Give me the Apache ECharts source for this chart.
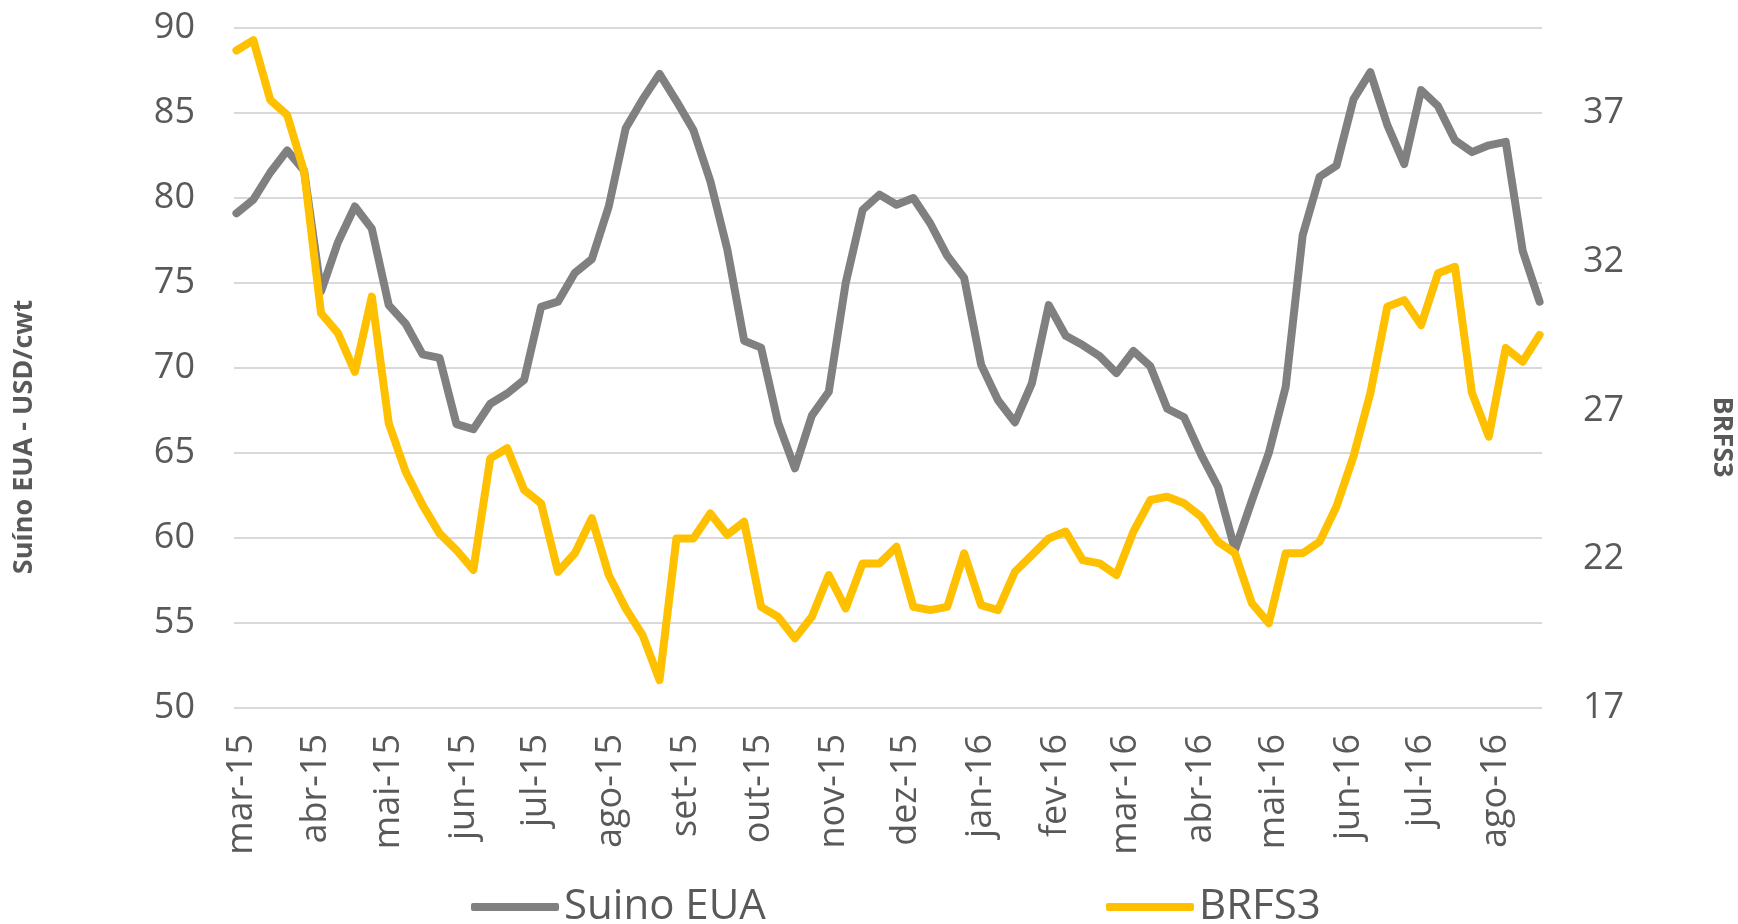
<!DOCTYPE html>
<html>
<head>
<meta charset="utf-8">
<title>Suino EUA x BRFS3</title>
<script src="https://cdn.jsdelivr.net/npm/echarts@6/dist/echarts.min.js"></script>
<style>
  html, body { margin: 0; padding: 0; background: #ffffff; }
  #chart { width: 1738px; height: 924px; }
</style>
</head>
<body>
<div id="chart"></div>
<script>
// datas semanais (sextas-feiras)
const dates = [
  '2015-02-27', '2015-03-06', '2015-03-13', '2015-03-20', '2015-03-27',
  '2015-04-03', '2015-04-10', '2015-04-17', '2015-04-24',
  '2015-05-01', '2015-05-08', '2015-05-15', '2015-05-22', '2015-05-29',
  '2015-06-05', '2015-06-12', '2015-06-19', '2015-06-26',
  '2015-07-03', '2015-07-10', '2015-07-17', '2015-07-24', '2015-07-31',
  '2015-08-07', '2015-08-14', '2015-08-21', '2015-08-28',
  '2015-09-04', '2015-09-11', '2015-09-18', '2015-09-25',
  '2015-10-02', '2015-10-09', '2015-10-16', '2015-10-23', '2015-10-30',
  '2015-11-06', '2015-11-13', '2015-11-20', '2015-11-27',
  '2015-12-04', '2015-12-11', '2015-12-18', '2015-12-25',
  '2016-01-01', '2016-01-08', '2016-01-15', '2016-01-22', '2016-01-29',
  '2016-02-05', '2016-02-12', '2016-02-19', '2016-02-26',
  '2016-03-04', '2016-03-11', '2016-03-18', '2016-03-25',
  '2016-04-01', '2016-04-08', '2016-04-15', '2016-04-22', '2016-04-29',
  '2016-05-06', '2016-05-13', '2016-05-20', '2016-05-27',
  '2016-06-03', '2016-06-10', '2016-06-17', '2016-06-24',
  '2016-07-01', '2016-07-08', '2016-07-15', '2016-07-22', '2016-07-29',
  '2016-08-05', '2016-08-12', '2016-08-19'
];

// Suino EUA (USD/cwt) - eixo esquerdo
const suinoEua = [
  79.1, 79.9, 81.5, 82.8, 81.6, 74.5, 77.4, 79.5, 78.2, 73.7,
  72.6, 70.8, 70.6, 66.7, 66.4, 67.9, 68.5, 69.3, 73.6, 73.9,
  75.6, 76.4, 79.5, 84.1, 85.8, 87.3, 85.7, 84.0, 81.0, 77.0,
  71.6, 71.2, 66.8, 64.1, 67.2, 68.6, 75.0, 79.3, 80.2, 79.6,
  80.0, 78.5, 76.6, 75.3, 70.2, 68.1, 66.8, 69.1, 73.7, 71.9,
  71.35, 70.7, 69.7, 71.0, 70.1, 67.6, 67.1, 64.9, 63.0, 59.3,
  62.2, 65.0, 68.9, 77.8, 81.25, 81.9, 85.8, 87.4, 84.3, 82.0,
  86.35, 85.4, 83.4, 82.7, 83.1, 83.3, 76.9, 73.9
];

// BRFS3 (R$) - eixo direito
const brfs3 = [
  39.1, 39.45, 37.44, 36.93, 35.03, 30.27, 29.6, 28.3, 30.83, 26.57,
  24.94, 23.82, 22.87, 22.31, 21.64, 25.39, 25.73, 24.33, 23.88, 21.58,
  22.2, 23.38, 21.47, 20.35, 19.45, 17.94, 22.7, 22.7, 23.54, 22.82,
  23.26, 20.4, 20.07, 19.34, 20.07, 21.47, 20.35, 21.86, 21.86, 22.42,
  20.4, 20.29, 20.4, 22.2, 20.46, 20.29, 21.58, 22.14, 22.7, 22.93,
  21.97, 21.86, 21.47, 22.93, 23.99, 24.1, 23.88, 23.43, 22.59, 22.2,
  20.52, 19.85, 22.2, 22.2, 22.59, 23.77, 25.45, 27.58, 30.49, 30.71,
  29.87, 31.61, 31.83, 27.6, 26.12, 29.1, 28.64, 29.54
];

// rótulos dos meses
const mesesPt = ['jan', 'fev', 'mar', 'abr', 'mai', 'jun', 'jul', 'ago', 'set', 'out', 'nov', 'dez'];

const fonte = 'Open Sans';
const corTexto = '#595959';
const DIA = 24 * 3600 * 1000;

const chart = echarts.init(document.getElementById('chart'));

const option = {
  backgroundColor: '#ffffff',
  animation: false,
  textStyle: { fontFamily: fonte },
  grid: { left: 234, right: 196, top: 28, bottom: 216, containLabel: false },
  legend: [
    {
      data: ['Suino EUA'],
      left: 466,
      top: 881,
      icon: 'roundRect',
      itemWidth: 88,
      itemHeight: 8,
      textStyle: { fontSize: 42, color: corTexto, fontFamily: fonte }
    },
    {
      data: ['BRFS3'],
      left: 1101,
      top: 881,
      icon: 'roundRect',
      itemWidth: 88,
      itemHeight: 8,
      textStyle: { fontSize: 42, color: corTexto, fontFamily: fonte }
    }
  ],
  xAxis: {
    type: 'time',
    min: '2015-02-26',
    max: '2016-08-20',
    minInterval: 28 * DIA,
    maxInterval: 31 * DIA,
    axisLine: { show: false },
    axisTick: { show: false },
    splitLine: { show: false },
    axisLabel: {
      rotate: 90,
      margin: 26,
      fontSize: 36,
      color: corTexto,
      fontFamily: fonte,
      hideOverlap: false,
      showMinLabel: false,
      showMaxLabel: false,
      formatter: function (value) {
        const d = new Date(value);
        if (d.getDate() !== 1) return '';
        return mesesPt[d.getMonth()] + '-' + String(d.getFullYear()).slice(2);
      }
    }
  },
  yAxis: [
    {
      type: 'value',
      min: 50,
      max: 90,
      interval: 5,
      axisLine: { show: false },
      axisTick: { show: false },
      splitLine: { show: true, lineStyle: { color: '#d9d9d9', width: 2 } },
      axisLabel: { fontSize: 36, color: corTexto, margin: 39, fontFamily: fonte }
    },
    {
      type: 'value',
      min: 17,
      max: 39.857,
      interval: 5,
      axisLine: { show: false },
      axisTick: { show: false },
      splitLine: { show: false },
      axisLabel: {
        fontSize: 36,
        color: corTexto,
        margin: 41,
        fontFamily: fonte,
        formatter: function (v) {
          const r = Math.round(v);
          if (Math.abs(v - r) > 0.01 || (r - 17) % 5 !== 0) return '';
          return String(r);
        }
      }
    }
  ],
  series: [
    {
      name: 'Suino EUA',
      type: 'line',
      yAxisIndex: 0,
      symbol: 'none',
      itemStyle: { color: '#808080' },
      lineStyle: { color: '#808080', width: 8, join: 'round', cap: 'round' },
      data: dates.map((d, i) => [d, suinoEua[i]])
    },
    {
      name: 'BRFS3',
      type: 'line',
      yAxisIndex: 1,
      symbol: 'none',
      itemStyle: { color: '#ffc000' },
      lineStyle: { color: '#ffc000', width: 8, join: 'round', cap: 'round' },
      data: dates.map((d, i) => [d, brfs3[i]])
    }
  ],
  graphic: [
    {
      type: 'text',
      x: 24,
      y: 437,
      rotation: Math.PI / 2,
      style: {
        text: 'Suíno EUA - USD/cwt',
        font: 'bold 27px "Open Sans"',
        fill: corTexto,
        align: 'center',
        verticalAlign: 'middle'
      }
    },
    {
      type: 'text',
      x: 1722,
      y: 437,
      rotation: -Math.PI / 2,
      style: {
        text: 'BRFS3',
        font: 'bold 27px "Open Sans"',
        fill: corTexto,
        align: 'center',
        verticalAlign: 'middle'
      }
    }
  ]
};

chart.setOption(option);
</script>
</body>
</html>
